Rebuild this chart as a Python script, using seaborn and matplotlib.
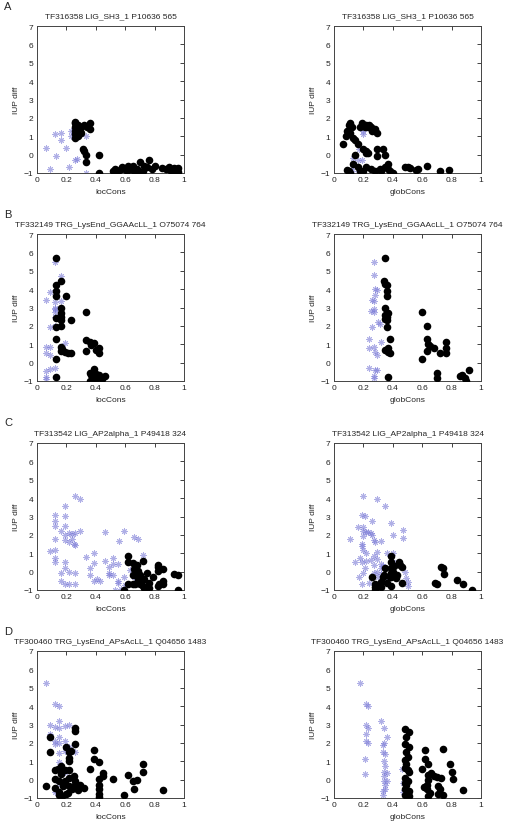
import pandas
import seaborn
import matplotlib.pyplot as plot

# panel titles / axis labels
titles = ["TF316358 LIG_SH3_1 P10636 565",
          "TF332149 TRG_LysEnd_GGAAcLL_1 O75074 764",
          "TF313542 LIG_AP2alpha_1 P49418 324",
          "TF300460 TRG_LysEnd_APsAcLL_1 Q04656 1483"]
letters = ["A", "B", "C", "D"]
xlabels = ["locCons", "globCons"]

# ---- A, locCons ----
a_loc_star = [(0.06, 0.35), (0.09, -0.8), (0.12, 1.1), (0.13, -0.1), (0.16, 1.2), (0.16, 0.8), (0.2, 0.35),
              (0.22, -0.65), (0.23, 1.3), (0.23, 1.0), (0.26, -0.3), (0.27, -0.25), (0.33, -1.0), (0.33, 1.0)]
a_loc_dot = [(0.26, 0.9), (0.26, 1.1), (0.26, 1.3), (0.26, 1.5), (0.26, 1.7), (0.26, 1.8), (0.27, 1.2), (0.27, 1.4),
             (0.28, 1.0), (0.28, 1.6), (0.29, 1.3), (0.3, 1.2), (0.3, 1.5), (0.31, 0.3), (0.32, 0.2), (0.33, 0.0),
             (0.33, -0.4), (0.32, 1.6), (0.34, 1.5), (0.36, 1.7), (0.36, 1.4), (0.42, 0.0), (0.42, -1.0),
             (0.52, -0.9), (0.53, -0.8), (0.55, -0.9), (0.57, -0.8), (0.58, -0.7), (0.6, -0.8), (0.61, -0.9),
             (0.62, -0.6), (0.64, -0.8), (0.65, -0.6), (0.66, -0.9), (0.68, -0.8), (0.69, -1.0), (0.7, -0.4),
             (0.72, -0.9), (0.73, -0.6), (0.75, -0.7), (0.76, -0.3), (0.78, -0.8), (0.8, -0.6), (0.85, -0.75),
             (0.88, -0.8), (0.9, -0.7), (0.91, -0.9), (0.93, -0.75), (0.94, -0.9), (0.96, -0.75), (0.96, -0.95)]
# ---- A, globCons ----
a_glob_star = [(0.17, 0.3), (0.13, -0.2), (0.16, -0.3), (0.2, 1.3), (0.2, 1.1), (0.13, -0.6), (0.19, -0.3),
               (0.12, -0.9), (0.16, -1.0)]
a_glob_dot = [(0.06, 0.6), (0.08, 1.0), (0.09, 1.3), (0.1, 1.6), (0.11, 1.7), (0.11, 1.2), (0.12, 1.5), (0.13, 0.9),
              (0.14, 0.8), (0.16, 0.6), (0.18, 1.5), (0.19, 1.7), (0.2, 1.6), (0.21, 1.5), (0.22, 1.6), (0.23, 1.5),
              (0.24, 1.6), (0.25, 1.5), (0.26, 1.3), (0.28, 1.4), (0.29, 1.2), (0.2, 0.3), (0.22, 0.2), (0.22, 0.1),
              (0.29, 0.3), (0.29, -0.05), (0.33, 0.3), (0.35, 0.0), (0.35, -0.7), (0.32, -0.9), (0.31, -0.8),
              (0.28, -0.9), (0.25, -0.8), (0.22, -0.7), (0.2, -0.9), (0.18, -0.9), (0.16, -0.7), (0.13, -0.5),
              (0.1, -0.9), (0.11, -1.0), (0.09, -0.85), (0.37, -0.8), (0.38, -0.9), (0.4, -1.0), (0.37, -0.5),
              (0.48, -0.7), (0.5, -0.7), (0.52, -0.75), (0.56, -0.85), (0.57, -0.8), (0.63, -0.6), (0.72, -0.9),
              (0.78, -0.85), (0.14, 0.0), (0.23, 0.1)]
# ---- B, locCons ----
b_loc_star = [(0.06, 3.4), (0.06, 0.85), (0.06, 0.55), (0.06, -0.45), (0.06, -0.8), (0.06, -0.9), (0.09, 3.85),
              (0.09, 1.95), (0.09, 0.85), (0.09, 0.4), (0.09, -0.35), (0.12, 5.5), (0.12, 3.3), (0.12, 3.0),
              (0.12, 2.9), (0.12, 2.75), (0.12, 2.5), (0.12, -0.3), (0.16, 4.7), (0.16, 3.35), (0.16, 2.6),
              (0.16, 2.4), (0.19, 1.05), (0.12, 2.0)]
b_loc_dot = [(0.13, 5.7), (0.13, 4.25), (0.13, 3.9), (0.13, 3.6), (0.13, 2.45), (0.13, 1.95), (0.13, 1.3),
             (0.13, 0.2), (0.13, -0.8), (0.16, 4.45), (0.16, 3.0), (0.16, 2.7), (0.16, 2.5), (0.16, 2.3),
             (0.16, 2.0), (0.16, 0.85), (0.16, 0.65), (0.17, 0.75), (0.19, 0.6), (0.2, 3.6), (0.21, 0.55),
             (0.23, 2.3), (0.23, 0.5), (0.33, 2.75), (0.33, 1.25), (0.33, 0.65), (0.36, 1.1), (0.37, 0.95),
             (0.39, 1.05), (0.4, 0.7), (0.42, 0.8), (0.42, 0.5), (0.36, -0.55), (0.37, -0.7), (0.38, -0.85),
             (0.39, -0.35), (0.4, -0.6), (0.41, -0.85), (0.42, -0.65), (0.43, -0.8), (0.44, -0.9), (0.46, -0.75),
             (0.36, -1.0), (0.39, -0.9)]
# ---- B, globCons ----
b_glob_star = [(0.24, 1.3), (0.24, 0.8), (0.24, -0.3), (0.25, 2.8), (0.26, 1.95), (0.26, 3.4), (0.27, 5.45),
               (0.27, 4.75), (0.27, 3.35), (0.27, 2.75), (0.27, 2.9), (0.27, 0.85), (0.27, -0.85), (0.27, -0.75),
               (0.28, 4.0), (0.28, 3.7), (0.28, 0.6), (0.28, -0.4), (0.29, 0.4), (0.29, 3.95), (0.3, 2.2),
               (0.31, 2.1), (0.32, 1.1), (0.29, -0.4)]
b_glob_dot = [(0.34, 4.45), (0.35, 5.7), (0.35, 4.3), (0.36, 4.2), (0.36, 3.9), (0.36, 3.6), (0.35, 3.0),
              (0.35, 2.6), (0.35, 2.4), (0.36, 2.5), (0.37, 2.7), (0.36, 2.3), (0.36, 1.95), (0.35, 0.7),
              (0.37, 0.8), (0.37, 0.6), (0.38, 1.3), (0.38, 0.5), (0.37, -0.8), (0.6, 2.75), (0.6, 0.2), (0.63, 2.0),
              (0.63, 1.3), (0.63, 0.65), (0.64, 1.0), (0.65, 0.9), (0.68, 0.8), (0.7, -0.55), (0.7, -0.85),
              (0.72, 0.5), (0.76, 1.1), (0.76, 0.8), (0.76, 0.5), (0.86, -0.75), (0.87, -0.7), (0.89, -0.85),
              (0.9, -1.0), (0.92, -0.4)]
# ---- C, locCons ----
c_loc_star = [(0.09, 1.1), (0.12, 3.1), (0.12, 2.75), (0.12, 2.5), (0.12, 1.8), (0.12, 1.15), (0.12, 0.75),
              (0.12, 0.5), (0.16, 2.2), (0.16, -0.1), (0.16, -0.5), (0.19, 3.55), (0.19, 3.05), (0.19, 2.5),
              (0.19, 2.0), (0.19, 1.7), (0.19, 0.55), (0.19, 0.2), (0.19, -0.65), (0.22, 2.1), (0.22, 1.6),
              (0.22, 0.0), (0.22, -0.65), (0.24, 2.05), (0.24, 1.75), (0.25, 1.5), (0.26, 1.45), (0.26, 2.1),
              (0.26, 4.1), (0.26, -0.1), (0.26, -0.7), (0.29, 3.95), (0.29, 2.2), (0.33, 0.8), (0.36, -0.2),
              (0.39, 1.0), (0.39, 0.45), (0.39, -0.5), (0.41, -0.4), (0.46, 2.15), (0.46, 0.6), (0.49, 0.25),
              (0.49, -0.05), (0.49, -0.2), (0.52, 0.75), (0.52, 0.4), (0.52, -0.2), (0.53, -1.0), (0.55, 0.4),
              (0.55, -0.5), (0.55, -0.6), (0.56, 1.65), (0.57, -0.95), (0.59, 2.2), (0.59, -0.3), (0.6, -0.75),
              (0.66, 1.9), (0.69, 1.75), (0.72, 0.9), (0.36, 0.2), (0.43, -0.5), (0.63, 0.1), (0.66, -0.3)]
c_loc_dot = [(0.59, -1.0), (0.62, 0.85), (0.62, 0.5), (0.62, -0.7), (0.65, 0.45), (0.65, -0.2), (0.65, -0.7),
             (0.66, 0.15), (0.67, -0.7), (0.68, 0.35), (0.69, -0.4), (0.69, 0.05), (0.7, -0.7), (0.72, 0.6),
             (0.72, -0.8), (0.73, -0.4), (0.73, -0.9), (0.76, -0.6), (0.76, -0.9), (0.79, -0.3), (0.82, 0.35),
             (0.82, 0.25), (0.82, 0.05), (0.82, -0.8), (0.83, -0.65), (0.86, 0.15), (0.86, -0.5), (0.86, -0.65),
             (0.93, -0.15), (0.96, -0.2), (0.96, -1.0), (0.7, -0.2), (0.75, -0.1)]
# ---- C, globCons ----
c_glob_star = [(0.11, 1.8), (0.14, 0.5), (0.16, 2.45), (0.18, 0.75), (0.19, 3.1), (0.19, 1.5), (0.19, 1.4),
               (0.19, 0.5), (0.19, -0.65), (0.2, 4.1), (0.2, 2.45), (0.2, 2.2), (0.2, 1.95), (0.2, 1.15),
               (0.2, -0.1), (0.21, 3.05), (0.21, 0.2), (0.22, 2.15), (0.22, 1.0), (0.22, 0.6), (0.23, 2.15),
               (0.24, -0.6), (0.25, 2.1), (0.25, 0.65), (0.26, 2.0), (0.26, 2.75), (0.27, 1.7), (0.27, 0.85),
               (0.27, 0.35), (0.27, -0.05), (0.28, 1.6), (0.29, 3.95), (0.29, 1.05), (0.29, 0.7), (0.29, 0.0),
               (0.3, -0.3), (0.32, 1.65), (0.32, 0.4), (0.32, 0.2), (0.32, -0.15), (0.33, 0.3), (0.35, 3.55),
               (0.36, -0.4), (0.39, 2.65), (0.39, 0.15), (0.4, 2.0), (0.4, 1.0), (0.4, 0.5), (0.47, 2.25),
               (0.47, 1.85), (0.48, 0.0), (0.49, -0.35), (0.5, -0.55), (0.5, -0.8), (0.17, -0.3), (0.3, -0.9),
               (0.36, 1.0)]
c_glob_dot = [(0.26, -0.3), (0.28, -0.7), (0.28, -0.85), (0.28, -1.0), (0.32, -0.55), (0.32, -0.85), (0.33, -0.3),
              (0.34, -0.2), (0.35, 0.2), (0.36, -0.6), (0.38, -0.3), (0.39, 0.85), (0.39, 0.5), (0.39, 0.2),
              (0.39, -0.05), (0.39, -0.3), (0.39, -0.8), (0.4, 0.0), (0.41, 0.3), (0.42, -0.35), (0.43, -0.2),
              (0.44, 0.55), (0.45, 0.35), (0.46, 0.25), (0.46, -0.6), (0.69, -0.6), (0.7, -0.7), (0.73, 0.25),
              (0.74, 0.2), (0.75, -0.15), (0.84, -0.45), (0.88, -0.65), (0.94, -1.0)]
# ---- D, locCons ----
d_loc_star = [(0.06, 5.25), (0.09, 3.0), (0.09, 2.5), (0.09, 2.35), (0.12, 4.1), (0.12, 2.85), (0.12, 2.1),
              (0.12, 1.95), (0.15, 4.0), (0.15, 3.2), (0.15, 2.8), (0.15, 2.3), (0.15, 2.0), (0.15, 1.45),
              (0.15, 0.95), (0.15, -0.2), (0.15, -0.8), (0.19, 2.9), (0.19, 2.1), (0.19, 1.55), (0.19, 0.4),
              (0.22, 3.0), (0.22, 1.8), (0.22, 1.6), (0.26, 1.5), (0.12, -0.7), (0.19, -0.9)]
d_loc_dot = [(0.06, -0.35), (0.09, 2.3), (0.09, 1.5), (0.12, 0.55), (0.12, 0.05), (0.12, -0.45), (0.14, 0.6),
             (0.15, -0.85), (0.15, -0.7), (0.15, -0.1), (0.16, 0.75), (0.16, 0.6), (0.16, 0.3), (0.17, -0.9),
             (0.18, -0.35), (0.19, 0.5), (0.19, -0.05), (0.2, 1.8), (0.2, -0.8), (0.21, -0.75), (0.22, 1.5),
             (0.22, 1.2), (0.22, 1.0), (0.22, 0.5), (0.22, 0.1), (0.22, -0.35), (0.23, 1.55), (0.24, -0.5),
             (0.25, -0.35), (0.25, 0.2), (0.26, 2.8), (0.26, 2.65), (0.26, 1.95), (0.26, -0.1), (0.28, -0.55),
             (0.29, -0.3), (0.32, -0.45), (0.36, 0.6), (0.39, 1.6), (0.39, 1.1), (0.42, 0.95), (0.42, 0.05),
             (0.42, -0.3), (0.42, -0.5), (0.42, -0.8), (0.42, -0.95), (0.45, 0.35), (0.45, 0.2), (0.52, 0.05),
             (0.59, -0.85), (0.62, 0.25), (0.65, -0.1), (0.66, -0.5), (0.68, 0.0), (0.72, 0.85), (0.72, 0.4),
             (0.86, -0.55)]
# ---- D, globCons ----
d_glob_star = [(0.18, 5.25), (0.21, 1.1), (0.21, 0.3), (0.22, 4.1), (0.22, 2.95), (0.22, 2.1), (0.23, 2.8),
               (0.23, 2.0), (0.23, 4.0), (0.22, 2.5), (0.32, 3.2), (0.33, 1.9), (0.33, 1.5), (0.33, -0.6),
               (0.33, -0.85), (0.34, 2.8), (0.34, 2.0), (0.34, 1.0), (0.34, 0.4), (0.34, -0.05), (0.35, 0.75),
               (0.35, -0.3), (0.35, -0.5), (0.35, 1.4), (0.36, 2.3), (0.36, 0.35), (0.36, -0.1), (0.46, 0.6),
               (0.47, -0.2), (0.47, -0.7), (0.34, 0.2)]
d_glob_dot = [(0.48, 2.75), (0.48, 1.95), (0.48, 1.05), (0.48, 0.65), (0.48, 0.1), (0.48, -0.2), (0.48, -0.5),
              (0.48, -0.85), (0.49, 2.3), (0.49, 1.5), (0.49, 0.85), (0.49, 0.0), (0.49, -0.3), (0.5, 1.25),
              (0.5, 0.55), (0.5, -0.05), (0.5, -0.75), (0.51, 2.6), (0.51, 1.8), (0.51, 0.4), (0.51, -0.6),
              (0.51, -0.9), (0.6, 0.6), (0.61, -0.4), (0.62, 1.6), (0.62, 1.1), (0.63, -0.3), (0.63, -0.5),
              (0.64, 0.85), (0.64, 0.0), (0.64, -0.9), (0.65, -0.75), (0.66, 0.35), (0.68, 0.2), (0.7, 0.15),
              (0.71, -0.35), (0.71, -0.8), (0.72, -0.5), (0.73, 0.1), (0.74, 1.65), (0.74, -0.85), (0.79, 0.85),
              (0.8, 0.4), (0.81, 0.05), (0.88, -0.55), (0.64, 0.25)]

panels = [[(a_loc_star, a_loc_dot), (a_glob_star, a_glob_dot)],
          [(b_loc_star, b_loc_dot), (b_glob_star, b_glob_dot)],
          [(c_loc_star, c_loc_dot), (c_glob_star, c_glob_dot)],
          [(d_loc_star, d_loc_dot), (d_glob_star, d_glob_dot)]]

seaborn.set_theme(style="white")
plot.rcParams['font.family'] = ['Liberation Sans', 'DejaVu Sans']

fig = plot.figure(figsize=(5.05, 8.28), dpi=100)
W, H = 505, 828
row_bottom_px = [174, 382, 591, 799]
col_left_px = [37, 334]
ax_w, ax_h = 147, 147

for r in range(4):
    for c in range(2):
        ax = fig.add_axes([col_left_px[c] / W, 1 - row_bottom_px[r] / H, ax_w / W, ax_h / H])
        stars, dots = panels[r][c]
        df_s = pandas.DataFrame(stars, columns=['x', 'y'])
        df_d = pandas.DataFrame(dots, columns=['x', 'y'])
        seaborn.scatterplot(data=df_s, x='x', y='y', ax=ax, marker=(8, 2, 0), s=16,
                            color='#7a7ad6', alpha=0.6, linewidth=0.7, edgecolor='#7a7ad6', zorder=2)
        seaborn.scatterplot(data=df_d, x='x', y='y', ax=ax, marker='o', s=30,
                            color='black', linewidth=0, zorder=3)
        ax.set_xlim(0, 1)
        ax.set_ylim(-1, 7)
        ax.set_xticks([0, 0.2, 0.4, 0.6, 0.8, 1], ['0', '0.2', '0.4', '0.6', '0.8', '1'])
        ax.set_yticks(range(-1, 8))
        ax.tick_params(direction='in', length=3, width=0.6, labelsize=6, pad=2.5,
                       top=True, right=True, colors='#222222')
        for sp in ax.spines.values():
            sp.set_linewidth(0.7)
            sp.set_color('#444444')
        ax.set_xlabel(xlabels[c], fontsize=6, labelpad=3)
        ax.set_ylabel('IUP diff', fontsize=6, labelpad=3)
        ax.set_title(titles[r], fontsize=6, pad=6)
    fig.text(4 / W, 1 - (7 + [0, 208, 416, 625][r]) / H, letters[r], fontsize=8,
             ha='left', va='center')

fig.savefig("out.png", dpi=100)
